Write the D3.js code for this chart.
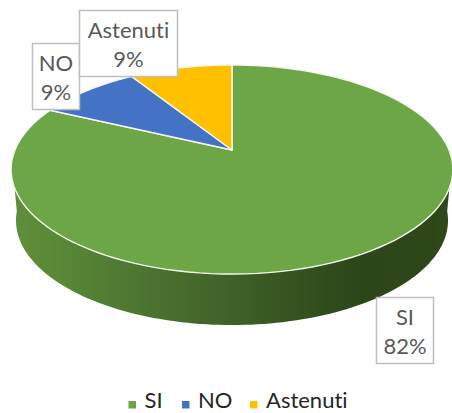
<!DOCTYPE html>
<html>
<head>
<meta charset="utf-8">
<script src="https://cdn.jsdelivr.net/npm/d3@7"></script>
<style>html,body{margin:0;padding:0;background:#fff}svg{display:block}text{font-family:Lato,"Open Sans",sans-serif;font-variant-ligatures:none}</style>
</head>
<body>
<script>
const categories = ["SI", "NO", "Astenuti"];
const values = [82, 9, 9];
const colors = ["#6da646", "#4472c4", "#ffc000"];
const labelText = ["82%", "9%", "9%"];

const W = 452, H = 413;
const svg = d3.select("body").append("svg").attr("width", W).attr("height", H);
const cx = 232, cy = 150, persp = 0.1866, A = 100.9, B = 217, depth = 51;
const project = (t, k = 1, dy = 0) => {
  const s = Math.sin(t), c = Math.cos(t), d = 1 + persp * c;
  return [cx + k * B * s / d, cy + dy - A * c / d];
};
const pie = d3.pie().sort(null).value(d => d);
const arcs = pie(values);
const line = d3.line();
const sample = (a, b, f) => d3.range(0, 121).map(i => f(a + (b - a) * i / 120));

const defs = svg.append("defs");
const grad = defs.append("linearGradient").attr("id", "wall")
  .attr("gradientUnits", "userSpaceOnUse").attr("x1", 12).attr("x2", 452).attr("y1", 0).attr("y2", 0);
[[0, "#5e8f3a"], [0.12, "#588736"], [0.3, "#4c7430"], [0.5, "#3f6128"], [0.68, "#324f1e"], [0.8, "#2c4619"], [1, "#2f481a"]]
  .forEach(s => grad.append("stop").attr("offset", s[0]).attr("stop-color", s[1]));

// side wall: the visible front half of the disc
const wa = Math.PI / 2 + 0.1, wb = 3 * Math.PI / 2 - 0.1;
const front = sample(wa, wb, t => project(t));
const back = sample(wb, wa, t => project(t, 0.978, depth));
svg.append("path").attr("d", line(front.concat(back)) + "Z").attr("fill", "url(#wall)");

// top faces
const g = svg.append("g");
arcs.forEach((d, i) => {
  const pts = [[cx, cy]].concat(sample(d.startAngle, d.endAngle, t => project(t)));
  g.append("path").attr("d", line(pts) + "Z").attr("fill", colors[i])
    .attr("stroke", "#f4f6ee").attr("stroke-width", 1.4).attr("stroke-linejoin", "round");
});

// data labels
const boxes = [
  { x: 376.5, y: 297.5, w: 57, h: 66 },
  { x: 32.5, y: 43.5, w: 47, h: 66 },
  { x: 79.5, y: 10.5, w: 98, h: 66 }
];
boxes.forEach((b, i) => {
  svg.append("rect").attr("x", b.x).attr("y", b.y).attr("width", b.w).attr("height", b.h)
    .attr("fill", "#fff").attr("stroke", "#bfbfbf").attr("stroke-width", 1.5);
  const t = svg.append("text").attr("text-anchor", "middle").attr("fill", "#595959").attr("font-size", 22);
  t.append("tspan").attr("x", b.x + b.w / 2).attr("y", b.y + 27).text(categories[i]);
  t.append("tspan").attr("x", b.x + b.w / 2).attr("y", b.y + 56).text(labelText[i]);
});

// legend
const legendX = [128.5, 182, 250];
categories.forEach((c, i) => {
  svg.append("rect").attr("x", legendX[i]).attr("y", 401).attr("width", 7.5).attr("height", 7.5).attr("fill", colors[i]);
  svg.append("text").attr("x", legendX[i] + 16).attr("y", 408).attr("font-size", 22).attr("fill", "#262626").text(c);
});
</script>
</body>
</html>
